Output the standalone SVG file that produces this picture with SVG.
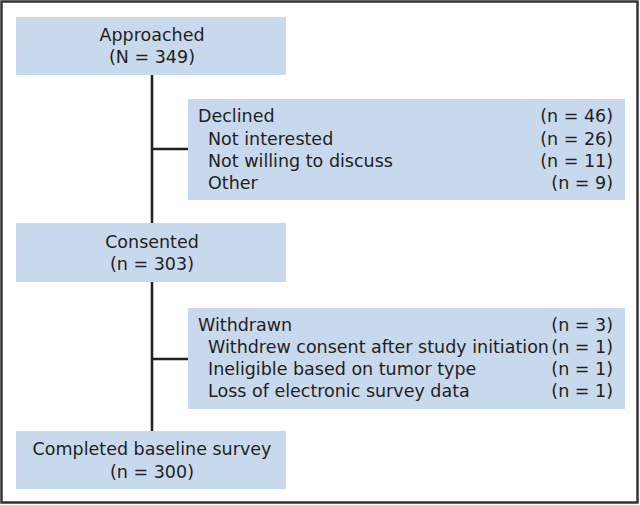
<svg xmlns="http://www.w3.org/2000/svg" width="640" height="505" viewBox="0 0 640 505">
<style>
.box{fill:#c8d8ed;}
.t{font-family:"DejaVu Sans","Liberation Sans",Arial,sans-serif;font-size:17.5px;fill:#231f20;}
.c{text-anchor:middle;}
.r{text-anchor:end;}
.ln{stroke:#231f20;stroke-width:2.5;fill:none;}
</style>
<rect x="1.5" y="1.5" width="636" height="501" fill="#fff" stroke="#333" stroke-width="2.5"/>
<g id="connectors">
<line class="ln" x1="152" y1="75" x2="152" y2="431"/>
<line class="ln" x1="152" y1="149" x2="188" y2="149"/>
<line class="ln" x1="152" y1="359" x2="188" y2="359"/>
</g>
<g id="approached">
<rect class="box" x="16" y="17" width="270" height="58"/>
<text class="t c" x="152" y="41">Approached</text>
<text class="t c" x="152" y="63">(N = 349)</text>
</g>
<g id="declined">
<rect class="box" x="188" y="99" width="437" height="101"/>
<text class="t" x="198" y="122">Declined</text>
<text class="t" x="208" y="145">Not interested</text>
<text class="t" x="208" y="167">Not willing to discuss</text>
<text class="t" x="208" y="189">Other</text>
<text class="t r" x="613" y="122">(n = 46)</text>
<text class="t r" x="613" y="145">(n = 26)</text>
<text class="t r" x="613" y="167">(n = 11)</text>
<text class="t r" x="613" y="189">(n = 9)</text>
</g>
<g id="consented">
<rect class="box" x="16" y="223" width="270" height="59"/>
<text class="t c" x="152" y="248">Consented</text>
<text class="t c" x="152" y="270">(n = 303)</text>
</g>
<g id="withdrawn">
<rect class="box" x="188" y="308" width="437" height="101"/>
<text class="t" x="198" y="331">Withdrawn</text>
<text class="t" x="208" y="353">Withdrew consent after study initiation</text>
<text class="t" x="208" y="375">Ineligible based on tumor type</text>
<text class="t" x="208" y="397">Loss of electronic survey data</text>
<text class="t r" x="613" y="331">(n = 3)</text>
<text class="t r" x="613" y="353">(n = 1)</text>
<text class="t r" x="613" y="375">(n = 1)</text>
<text class="t r" x="613" y="397">(n = 1)</text>
</g>
<g id="completed">
<rect class="box" x="16" y="431" width="270" height="58"/>
<text class="t c" x="152" y="455">Completed baseline survey</text>
<text class="t c" x="152" y="478">(n = 300)</text>
</g>
</svg>
